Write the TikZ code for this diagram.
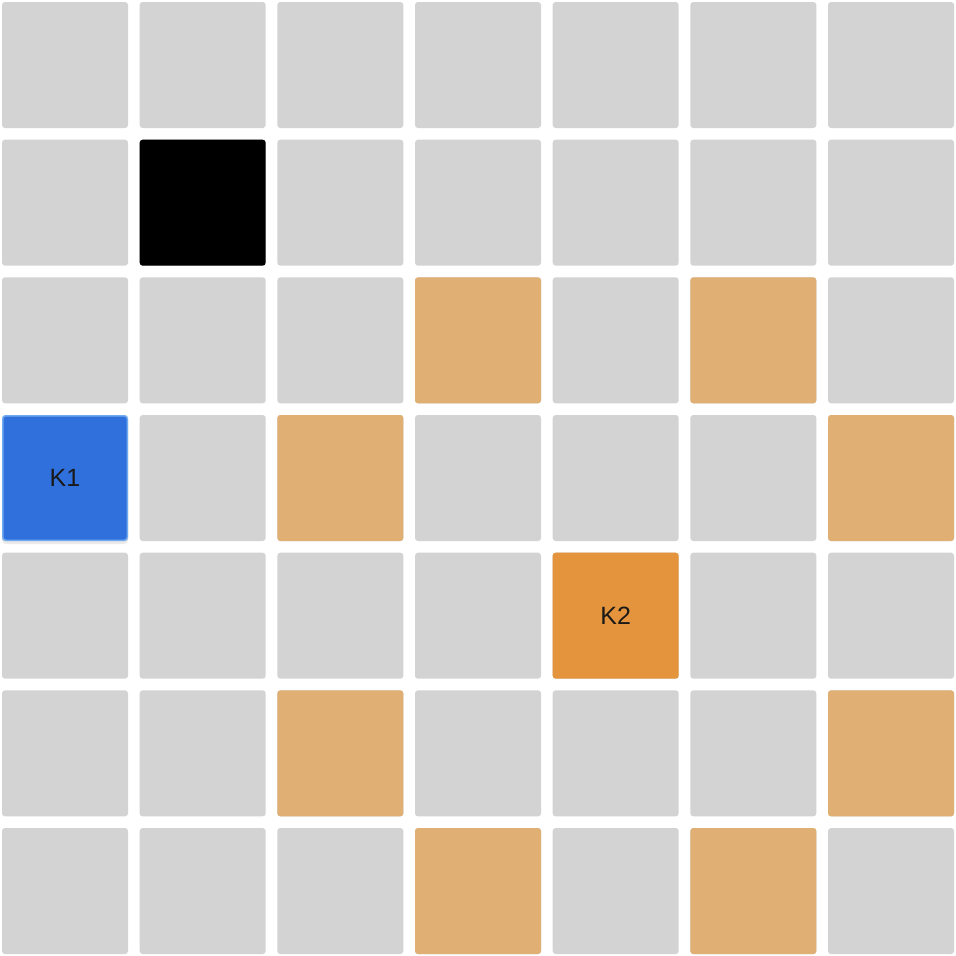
\documentclass[tikz,border=0pt]{standalone}
\usepackage{fontspec}
\setmainfont{Liberation Sans}
\definecolor{cellgray}{HTML}{D3D3D3}
\definecolor{move}{HTML}{DFAF74}
\definecolor{kblue}{HTML}{3070DC}
\definecolor{kblueborder}{HTML}{70AAF0}
\definecolor{korange}{HTML}{E4943C}
\begin{document}
\begin{tikzpicture}[x=1pt,y=-1pt,
  cell/.style={minimum width=126pt,minimum height=126pt,inner sep=0pt,rounded corners=3pt,fill=cellgray,font=\fontsize{25}{30}\selectfont,text=black!90},
  movecell/.style={cell,fill=move},
  blocked/.style={cell,fill=black},
  kone/.style={cell,fill=kblue,draw=kblueborder,line width=1.5pt,minimum width=124.5pt,minimum height=124.5pt},
  ktwo/.style={cell,fill=korange}]
\fill[white] (0,0) rectangle (956,956);
\useasboundingbox (0,0) rectangle (956,956);
\foreach \r in {0,...,6}{
  \foreach \c in {0,...,6}{
    \node[cell] (c-\r-\c) at ({65+137.67*\c},{65+137.67*\r}) {};
  }
}
\node[blocked] (b) at ({65+137.67*1},{65+137.67*1}) {};
\foreach \r/\c in {2/3,2/5,3/2,3/6,5/2,5/6,6/3,6/5}{
  \node[movecell] (m-\r-\c) at ({65+137.67*\c},{65+137.67*\r}) {};
}
\fill[black,opacity=0.08,rounded corners=4pt] ({65-63},{65+137.67*3-61}) rectangle ({65+63},{65+137.67*3+66});
\node[kone] (k1) at (65,{65+137.67*3}) {K1};
\node[ktwo] (k2) at ({65+137.67*4},{65+137.67*4}) {K2};
\end{tikzpicture}
\end{document}
